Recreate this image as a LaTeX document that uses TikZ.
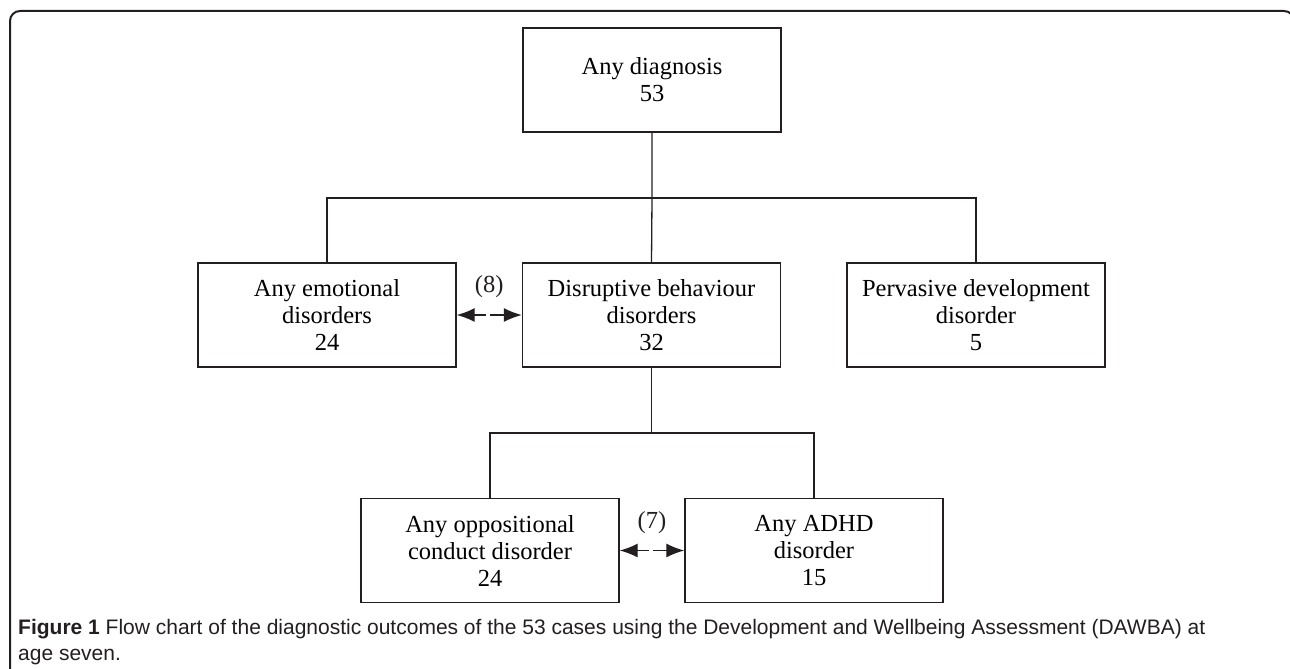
\documentclass[tikz,border=0pt]{standalone}
\usepackage{fontspec}
\setmainfont{Liberation Serif}
\newfontfamily\capfont{Liberation Sans}
\usetikzlibrary{arrows.meta,positioning,calc}
\definecolor{ink}{HTML}{231F20}

\begin{document}
\begin{tikzpicture}[x=1pt,y=-1pt,
    box/.style={draw=ink, line width=1.4pt, minimum width=258pt, minimum height=104pt,
      inner sep=0pt, align=center, font=\fontsize{24.5}{27}\selectfont},
    link/.style={draw=ink, line width=1.3pt},
    pair/.style={link, {Latex[length=18pt,width=14pt]}-{Latex[length=18pt,width=14pt]},
      dash pattern=on 12pt off 4pt on 40pt},
    tag/.style={font=\fontsize{24.5}{27}\selectfont, text=ink, inner sep=0pt}]
  \useasboundingbox (0,0) rectangle (1290,669);
  % outer frame
  \draw[ink, line width=2pt, rounded corners=10pt] (10,700) -- (10,11) -- (1294,11) -- (1294,700);

  \node[box] (any) at (652,80) {Any diagnosis\\53};
  \node[box] (emo) at (327,315) {Any emotional\\disorders\\24};
  \node[box] (dis) at (651.5,315) {Disruptive behaviour\\disorders\\32};
  \node[box] (per) at (976,315) {Pervasive development\\disorder\\5};
  \node[box] (opp) at (490,550.5) {Any oppositional\\conduct disorder\\24};
  \node[box] (adhd) at (814,550.5) {Any ADHD\\disorder\\15};

  \coordinate (bus1) at (any.south |- 0,198);
  \coordinate (bus2) at (dis.south |- 0,433);

  % tree lines
  \draw[link] (any.south) -- (bus1) -- (dis.north);
  \draw[link] (emo.north) |- (bus1) -| (per.north);
  \draw[link] (dis.south) -- (bus2);
  \draw[link] (opp.north) |- (bus2) -| (adhd.north);

  % overlaps
  \draw[pair] (emo.east) -- (dis.west) node[tag, midway, yshift=28pt] {(8)};
  \draw[pair] (opp.east) -- (adhd.west) node[tag, midway, yshift=28pt] {(7)};

  \node[anchor=west, align=left, inner sep=0pt, text=ink,
    font=\capfont\fontsize{21}{26}\selectfont] (cap) at (18,642.5)
    {{\bfseries Figure 1} Flow chart of the diagnostic outcomes of the 53 cases using the Development and Wellbeing Assessment (DAWBA) at\\age seven.};
\end{tikzpicture}
\end{document}
